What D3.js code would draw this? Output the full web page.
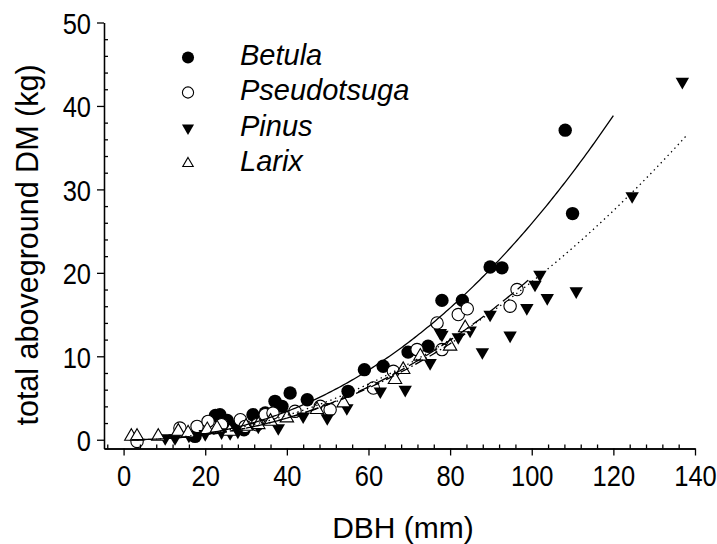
<!DOCTYPE html>
<html>
<head>
<meta charset="utf-8">
<script src="https://cdn.jsdelivr.net/npm/d3@7"></script>
<style>
  html, body { margin: 0; padding: 0; background: #fff; }
  svg { display: block; }
  text { font-family: "Liberation Sans", Arial, sans-serif; fill: #000; }
</style>
</head>
<body>
<svg id="chart" width="717" height="544"></svg>
<script>
// Diameter at breast height (mm) and total aboveground dry mass (kg) per tree
const betulaDBH = [17.5, 22.5, 23.6, 25.4, 27.8, 29.5, 31.7, 34.7, 37.1, 38.8, 40.8, 45, 55, 59, 63.6, 69.7, 74.6, 78, 83, 89.8, 92.7, 108.2, 110];
const betulaDM  = [0.4, 2.9, 3.0, 2.3, 1.6, 1.2, 3.0, 3.2, 4.6, 4.0, 5.6, 4.8, 5.8, 8.4, 8.8, 10.5, 11.2, 16.7, 16.7, 20.7, 20.6, 37.1, 27.1];

const pseudotsugaDBH = [3.3, 13.8, 18, 20.7, 24, 28.6, 29.8, 32.7, 34.7, 36.6, 42, 48.2, 49.9, 50.6, 61.2, 66.1, 71.9, 76.8, 78, 82, 84.2, 94.7, 96.4];
const pseudotsugaDM  = [-0.2, 1.4, 1.6, 2.2, 1.8, 2.4, 1.6, 1.8, 3.0, 3.2, 3.4, 4.0, 3.6, 3.6, 6.2, 8.2, 10.8, 14.0, 10.8, 15.0, 15.7, 16.0, 18.0];

const pinusDBH = [10.2, 12.6, 16, 20, 24, 26.1, 28, 33, 37.9, 44, 49.9, 54.7, 62.9, 69, 75.1, 77.6, 78, 82, 84.9, 87.9, 89.8, 94.7, 98.8, 100.8, 102, 103.8, 110.9, 124.6, 136.9];
const pinusDM  = [0.2, 0.2, 0.5, 0.7, 0.9, 0.8, 1.0, 1.6, 1.4, 2.8, 2.6, 3.8, 5.8, 6.0, 9.2, 12.8, 12.6, 12.3, 13.1, 10.5, 15.0, 12.5, 15.8, 18.6, 19.8, 17.0, 17.8, 29.2, 42.9];

const larixDBH = [1.9, 3.3, 8.5, 13.4, 15.8, 20.5, 22.9, 26, 30, 33, 36, 40, 47.4, 53.9, 66.5, 68.5, 72.7, 80, 83.7];
const larixDM  = [0.4, 0.4, 0.4, 1.0, 0.8, 1.2, 1.4, 1.0, 1.6, 1.8, 2.2, 2.6, 3.6, 4.4, 7.2, 8.4, 10.0, 11.2, 13.4];

// Allometric fits DM = a * DBH^b, drawn over each species' DBH range
const speciesNames = ["Betula", "Pseudotsuga", "Pinus", "Larix"];
const fitA    = [0.000941, 0.000776, 0.001574, 0.000932];
const fitB    = [2.22, 2.2, 2.04, 2.15];
const fitFrom = [17.5, 3.3, 10.2, 1.9];
const fitTo   = [120, 100, 138, 86];

const xMajorTicks = [0, 20, 40, 60, 80, 100, 120, 140];
const yMajorTicks = [0, 10, 20, 30, 40, 50];

const svg = d3.select("#chart");

const x = d3.scaleLinear().domain([-4.8, 140]).range([104, 695]);
const y = d3.scaleLinear().domain([-1.05, 50]).range([448.5, 22.5]);

const species = [
  { name: speciesNames[0], dbh: betulaDBH, dm: betulaDM, marker: "filledCircle", dash: null },
  { name: speciesNames[1], dbh: pseudotsugaDBH, dm: pseudotsugaDM, marker: "openCircle", dash: "14,5" },
  { name: speciesNames[2], dbh: pinusDBH, dm: pinusDM, marker: "downTriangle", dash: "1.4,3.6" },
  { name: speciesNames[3], dbh: larixDBH, dm: larixDM, marker: "upTriangle", dash: "9,3,1.5,3" }
];

function drawMarker(g, kind, cx, cy, scale) {
  const s = scale || 1;
  if (kind === "filledCircle") {
    g.append("circle").attr("cx", cx).attr("cy", cy).attr("r", 6.7 * s)
      .attr("fill", "#000");
  } else if (kind === "openCircle") {
    g.append("circle").attr("cx", cx).attr("cy", cy).attr("r", 6.2 * s)
      .attr("fill", "#fff").attr("stroke", "#000").attr("stroke-width", 1.1);
  } else {
    const tri = d3.symbol().type(d3.symbolTriangle).size(78 * s * s)();
    const p = g.append("path").attr("d", tri)
      .attr("transform", `translate(${cx},${cy})` + (kind === "downTriangle" ? " rotate(180)" : ""));
    if (kind === "downTriangle") p.attr("fill", "#000");
    else p.attr("fill", "#fff").attr("stroke", "#000").attr("stroke-width", 1.1);
  }
}

// Data markers
const markerLayer = svg.append("g");
species.forEach(sp => {
  sp.dbh.forEach((d, i) => {
    drawMarker(markerLayer, sp.marker, x(d), y(sp.dm[i]));
  });
});

// Fitted curves
const line = d3.line().x(d => x(d[0])).y(d => y(d[1]));
species.forEach((sp, k) => {
  const pts = d3.range(0, 201).map(i => {
    const dv = fitFrom[k] + (fitTo[k] - fitFrom[k]) * i / 200;
    return [dv, fitA[k] * Math.pow(dv, fitB[k])];
  });
  svg.append("path").datum(pts).attr("d", line)
    .attr("fill", "none").attr("stroke", "#000").attr("stroke-width", 1.3)
    .attr("stroke-dasharray", sp.dash);
});

// Axes: major ticks outside, minor ticks inside
const axisStyle = g => {
  g.selectAll("path.domain").attr("stroke", "#000").attr("stroke-width", 1.3).attr("fill", "none");
  g.selectAll(".tick line").attr("stroke", "#000").attr("stroke-width", 1.3);
};
// Tick numbers use a narrow face
const narrow = 0.85;

const xMinor = d3.range(-4, 141, 4).filter(v => v % 20 !== 0);
svg.append("g").attr("transform", `translate(0,${y.range()[0]})`)
  .call(d3.axisBottom(x).tickValues(xMinor).tickSize(-4).tickSizeOuter(0).tickFormat(""))
  .call(axisStyle);
const gx = svg.append("g").attr("transform", `translate(0,${y.range()[0]})`)
  .call(d3.axisBottom(x).tickValues(xMajorTicks).tickSize(7).tickSizeOuter(0))
  .call(axisStyle);
gx.selectAll(".tick text").attr("font-size", 30).attr("dy", null).attr("y", 37.5)
  .attr("transform", `scale(${narrow},1)`)
  .style("font-family", "'Liberation Sans', Arial, sans-serif");

const yMinor = d3.range(0, 51, 2).filter(v => v % 10 !== 0);
svg.append("g").attr("transform", `translate(${x.range()[0]},0)`)
  .call(d3.axisLeft(y).tickValues(yMinor).tickSize(-4).tickSizeOuter(0).tickFormat(""))
  .call(axisStyle);
const gy = svg.append("g").attr("transform", `translate(${x.range()[0]},0)`)
  .call(d3.axisLeft(y).tickValues(yMajorTicks).tickSize(7).tickSizeOuter(0))
  .call(axisStyle);
gy.selectAll(".tick text").attr("font-size", 30).attr("dy", "0.36em")
  .attr("x", -13 / narrow)
  .attr("transform", `scale(${narrow},1)`)
  .style("font-family", "'Liberation Sans', Arial, sans-serif");

// Axis titles
svg.append("text").attr("x", 403).attr("y", 538).attr("text-anchor", "middle")
  .attr("font-size", 30).text("DBH (mm)");
svg.append("text").attr("transform", "translate(38,245) rotate(-90)")
  .attr("text-anchor", "middle").attr("font-size", 30.5).text("total aboveground DM (kg)");

// Legend
const legendBaselines = [65, 100, 135.5, 171];
species.forEach((sp, k) => {
  drawMarker(svg, sp.marker, 188, legendBaselines[k] - 7.5, sp.marker === "upTriangle" ? 0.78 : 0.9);
  svg.append("text").attr("x", 240).attr("y", legendBaselines[k])
    .attr("font-size", 29).attr("font-style", "italic").text(sp.name);
});
</script>
</body>
</html>
